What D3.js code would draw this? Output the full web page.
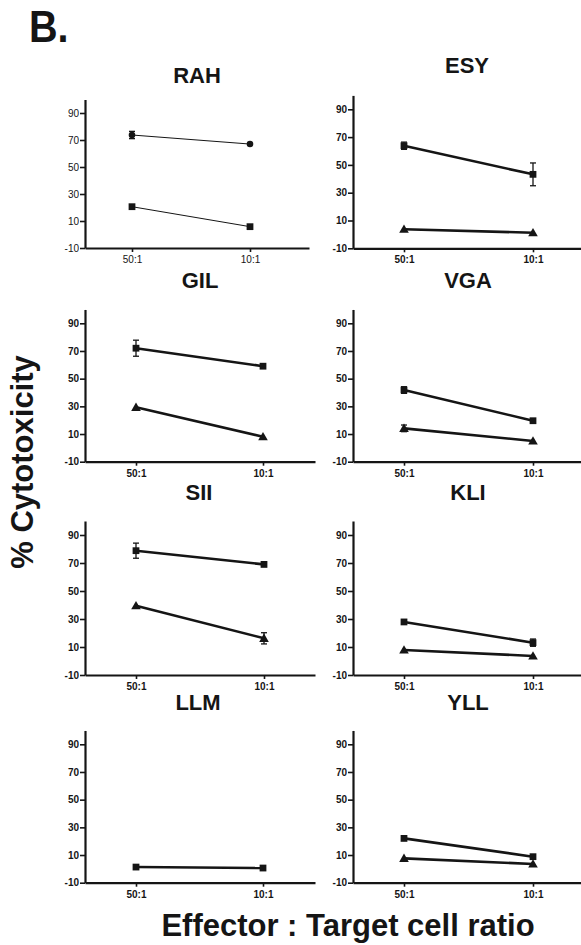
<!DOCTYPE html>
<html>
<head>
<meta charset="utf-8">
<script src="https://cdn.jsdelivr.net/npm/d3@7"></script>
<style>
  html, body { margin: 0; padding: 0; background: #fff; }
  svg { display: block; font-family: "Liberation Sans", Arial, Helvetica, sans-serif; }
</style>
</head>
<body>
<svg id="chart" width="581" height="945"></svg>
<script>
// ---------------- DATA ----------------
const panelNames = ["RAH", "ESY", "GIL", "VGA", "SII", "KLI", "LLM", "YLL"];
const ratios = ["50:1", "10:1"];
const yTickValues = [-10, 10, 30, 50, 70, 90];

const RAH_circle = [73.7, 67.0];
const RAH_circle_err = [2.7, 0];
const RAH_square = [20.6, 5.8];
const RAH_square_err = [0, 0];

const ESY_square = [63.8, 43.2];
const ESY_square_err = [2.6, 8.2];
const ESY_triangle = [3.7, 1.2];
const ESY_triangle_err = [0, 0];

const GIL_square = [72.0, 59.0];
const GIL_square_err = [5.8, 1.5];
const GIL_triangle = [29.3, 8.0];
const GIL_triangle_err = [0, 0];

const VGA_square = [41.8, 19.6];
const VGA_square_err = [2.4, 1.0];
const VGA_triangle = [14.1, 5.0];
const VGA_triangle_err = [2.4, 0];

const SII_square = [78.8, 69.0];
const SII_square_err = [5.4, 1.5];
const SII_triangle = [39.5, 16.2];
const SII_triangle_err = [0, 4.0];

const KLI_square = [27.9, 13.1];
const KLI_square_err = [0, 2.6];
const KLI_triangle = [7.9, 3.6];
const KLI_triangle_err = [0, 0];

const LLM_square = [1.3, 0.6];
const LLM_square_err = [0, 0];

const YLL_square = [22.0, 8.8];
const YLL_square_err = [0, 0];
const YLL_triangle = [7.6, 3.5];
const YLL_triangle_err = [0, 0];

const panelSeries = [
  [{shape: "circle", v: RAH_circle, e: RAH_circle_err}, {shape: "square", v: RAH_square, e: RAH_square_err}],
  [{shape: "square", v: ESY_square, e: ESY_square_err}, {shape: "triangle", v: ESY_triangle, e: ESY_triangle_err}],
  [{shape: "square", v: GIL_square, e: GIL_square_err}, {shape: "triangle", v: GIL_triangle, e: GIL_triangle_err}],
  [{shape: "square", v: VGA_square, e: VGA_square_err}, {shape: "triangle", v: VGA_triangle, e: VGA_triangle_err}],
  [{shape: "square", v: SII_square, e: SII_square_err}, {shape: "triangle", v: SII_triangle, e: SII_triangle_err}],
  [{shape: "square", v: KLI_square, e: KLI_square_err}, {shape: "triangle", v: KLI_triangle, e: KLI_triangle_err}],
  [{shape: "square", v: LLM_square, e: LLM_square_err}],
  [{shape: "square", v: YLL_square, e: YLL_square_err}, {shape: "triangle", v: YLL_triangle, e: YLL_triangle_err}]
];

// ---------------- LAYOUT ----------------
const layout = [
  {ax: 85,  axEnd: 309, p0: 132, p1: 250, bottom: 248,   ppu: 1.35,  tx: 197, ty: 83,  thin: true},
  {ax: 353, axEnd: 581, p0: 404, p1: 533, bottom: 248.3, ppu: 1.39,  tx: 467, ty: 73},
  {ax: 85,  axEnd: 315, p0: 136, p1: 263, bottom: 461.7, ppu: 1.384, tx: 200, ty: 288},
  {ax: 353, axEnd: 581, p0: 404, p1: 533, bottom: 461.7, ppu: 1.384, tx: 468, ty: 288},
  {ax: 85,  axEnd: 315, p0: 136, p1: 264, bottom: 675,   ppu: 1.40,  tx: 199, ty: 500},
  {ax: 353, axEnd: 581, p0: 404, p1: 533, bottom: 675,   ppu: 1.40,  tx: 468, ty: 500},
  {ax: 85,  axEnd: 315, p0: 136, p1: 263, bottom: 882.7, ppu: 1.384, tx: 198, ty: 710},
  {ax: 353, axEnd: 581, p0: 404, p1: 533, bottom: 882.7, ppu: 1.384, tx: 468, ty: 710}
];

const svg = d3.select("#chart");
const ink = "#151515";

svg.append("text")
  .attr("transform", "translate(29,42) scale(0.88,1)")
  .attr("font-size", 45).attr("font-weight", "bold").attr("fill", ink)
  .text("B.");

panelNames.forEach((name, i) => {
  const L = layout[i];
  const g = svg.append("g");
  const step = L.p1 - L.p0;
  const width = L.axEnd - L.ax;
  const pad = (width / step - 1) / 2;
  const align = (L.p0 - L.ax) / (width - step);
  const x = d3.scalePoint().domain(ratios).range([L.ax, L.axEnd]).padding(pad).align(align);
  const y = d3.scaleLinear().domain([-10, 100]).range([L.bottom, L.bottom - 110 * L.ppu]);

  const tickWeight = L.thin ? "normal" : "bold";

  g.append("text")
    .attr("x", L.tx).attr("y", L.ty)
    .attr("text-anchor", "middle")
    .attr("font-size", 22).attr("font-weight", "bold").attr("fill", ink)
    .text(name);

  const yAxis = g.append("g")
    .attr("transform", `translate(${L.ax},0)`)
    .call(d3.axisLeft(y).tickValues(yTickValues).tickFormat(d => String(d))
      .tickSize(5).tickSizeOuter(0).tickPadding(1));
  yAxis.select(".domain").attr("stroke", ink).attr("stroke-width", 2.2);
  yAxis.selectAll(".tick line").attr("stroke", ink).attr("stroke-width", 1.6);
  yAxis.selectAll(".tick text")
    .attr("font-size", 10).attr("font-weight", tickWeight).attr("fill", ink)
    .attr("font-family", "'Liberation Sans', Arial, sans-serif");

  const xAxis = g.append("g")
    .attr("transform", `translate(0,${L.bottom})`)
    .call(d3.axisBottom(x).tickSize(4).tickSizeOuter(0).tickPadding(4));
  xAxis.select(".domain").attr("stroke", ink).attr("stroke-width", 2.2);
  xAxis.selectAll(".tick line").attr("stroke", ink).attr("stroke-width", 1.6);
  xAxis.selectAll(".tick text")
    .attr("font-size", 10).attr("font-weight", tickWeight).attr("fill", ink)
    .attr("font-family", "'Liberation Sans', Arial, sans-serif");

  const lw = L.thin ? 1 : 2.6;
  const line = d3.line().x((d, j) => x(ratios[j])).y(d => y(d));

  panelSeries[i].forEach(s => {
    g.append("path")
      .attr("d", line(s.v))
      .attr("fill", "none").attr("stroke", ink).attr("stroke-width", lw);

    s.v.forEach((v, j) => {
      const e = s.e[j];
      if (!e) return;
      const cx = x(ratios[j]);
      g.append("line").attr("x1", cx).attr("x2", cx).attr("y1", y(v - e)).attr("y2", y(v + e))
        .attr("stroke", ink).attr("stroke-width", 1.3);
      [v - e, v + e].forEach(ev => {
        g.append("line").attr("x1", cx - 3).attr("x2", cx + 3).attr("y1", y(ev)).attr("y2", y(ev))
          .attr("stroke", ink).attr("stroke-width", 1.3);
      });
    });

    const symType = s.shape === "circle" ? d3.symbolCircle
      : s.shape === "square" ? d3.symbolSquare : d3.symbolTriangle;
    const size = s.shape === "circle" ? 34 : s.shape === "square" ? 46 : 40;
    s.v.forEach((v, j) => {
      g.append("path")
        .attr("d", d3.symbol().type(symType).size(size)())
        .attr("transform", `translate(${x(ratios[j])},${y(v) + (s.shape === "triangle" ? 0.8 : 0)})`)
        .attr("fill", ink);
    });
  });
});

svg.append("text")
  .attr("transform", "translate(33,462) rotate(-90)")
  .attr("text-anchor", "middle")
  .attr("font-size", 31).attr("font-weight", "bold").attr("fill", ink)
  .text("% Cytotoxicity");

svg.append("text")
  .attr("x", 348).attr("y", 936)
  .attr("text-anchor", "middle")
  .attr("font-size", 31).attr("font-weight", "bold").attr("fill", ink)
  .text("Effector : Target cell ratio");
</script>
</body>
</html>
